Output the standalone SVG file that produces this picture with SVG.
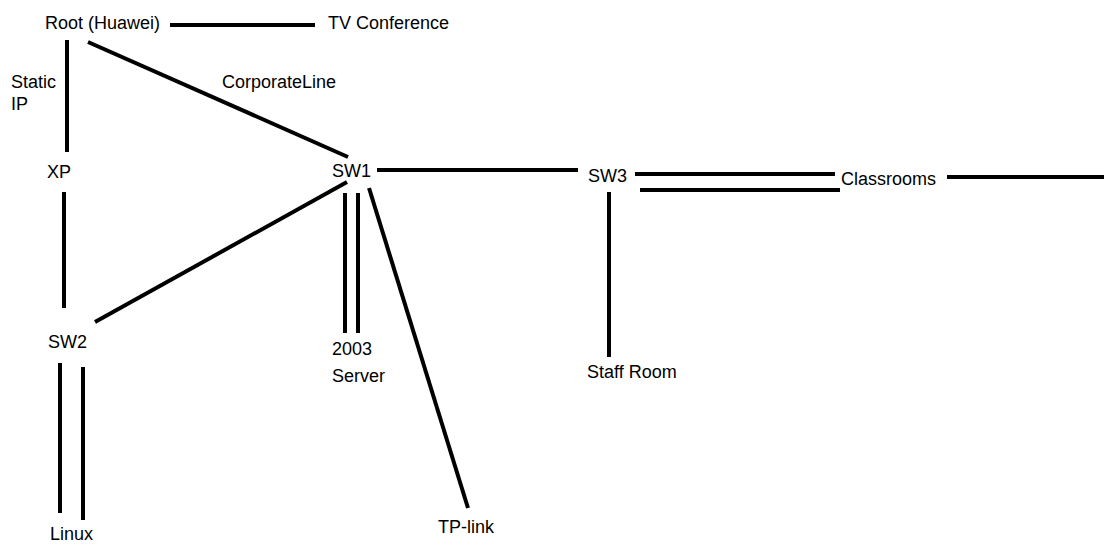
<svg xmlns="http://www.w3.org/2000/svg" width="1104" height="545" viewBox="0 0 1104 545">
  <style>
    .bg { fill: #ffffff; }
    .lbl { font-family: "Liberation Sans", Arial, sans-serif; font-size: 18px; fill: #000000; }
    .wire { stroke: #000000; stroke-width: 4; fill: none; stroke-linecap: butt; }
  </style>
  <rect class="bg" x="0" y="0" width="1104" height="545"/>

  <!-- links between devices -->
  <g id="connectors">
    <line class="wire" x1="170" y1="25" x2="315" y2="25"/>
    <line class="wire" x1="67" y1="40" x2="67" y2="152"/>
    <line class="wire" x1="88" y1="42" x2="348" y2="157"/>
    <line class="wire" x1="64" y1="192" x2="64" y2="308"/>
    <line class="wire" x1="347" y1="182" x2="95" y2="322"/>
    <line class="wire" x1="377" y1="170" x2="578" y2="170"/>
    <line class="wire" x1="345" y1="193" x2="345" y2="333"/>
    <line class="wire" x1="358" y1="193" x2="358" y2="333"/>
    <line class="wire" x1="369" y1="188" x2="468" y2="508"/>
    <line class="wire" x1="635" y1="174" x2="835" y2="174"/>
    <line class="wire" x1="640" y1="190" x2="840" y2="190"/>
    <line class="wire" x1="947" y1="177" x2="1104" y2="177"/>
    <line class="wire" x1="609" y1="192" x2="609" y2="357"/>
    <line class="wire" x1="60" y1="363" x2="60" y2="513"/>
    <line class="wire" x1="83" y1="367" x2="83" y2="520"/>
  </g>

  <g id="link-labels">
    <text class="lbl" x="11" y="88">Static</text>
    <text class="lbl" x="11" y="110">IP</text>
    <text class="lbl" x="222" y="88">CorporateLine</text>
  </g>

  <g id="root"><text class="lbl" x="45" y="29">Root (Huawei)</text></g>
  <g id="tv-conference"><text class="lbl" x="328" y="29">TV Conference</text></g>
  <g id="xp"><text class="lbl" x="47" y="178">XP</text></g>
  <g id="sw1"><text class="lbl" x="332" y="177">SW1</text></g>
  <g id="sw2"><text class="lbl" x="48" y="348">SW2</text></g>
  <g id="sw3"><text class="lbl" x="588" y="182">SW3</text></g>
  <g id="classrooms"><text class="lbl" x="841" y="185">Classrooms</text></g>
  <g id="staff-room"><text class="lbl" x="587" y="378">Staff Room</text></g>
  <g id="server-2003">
    <text class="lbl" x="332" y="355">2003</text>
    <text class="lbl" x="332" y="382">Server</text>
  </g>
  <g id="tp-link"><text class="lbl" x="438" y="533">TP-link</text></g>
  <g id="linux"><text class="lbl" x="50" y="540">Linux</text></g>
</svg>
